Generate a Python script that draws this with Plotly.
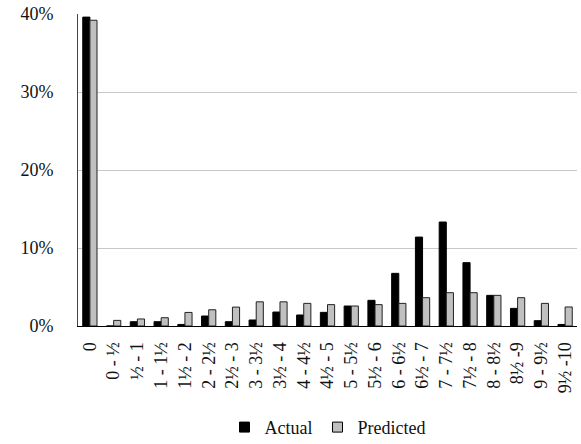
import plotly.graph_objects as go

categories = ["0", "0 - ½", "½ - 1", "1 - 1½", "1½ - 2", "2 - 2½", "2½ - 3", "3 - 3½",
              "3½ - 4", "4 - 4½", "4½ - 5", "5 - 5½", "5½ - 6", "6 - 6½", "6½ - 7",
              "7 - 7½", "7½ - 8", "8 - 8½", "8½ -9", "9 - 9½", "9½ -10"]
actual = [39.6, 0.0, 0.55, 0.55, 0.2, 1.28, 0.55, 0.77, 1.79, 1.41, 1.75, 2.56, 3.29,
          6.75, 11.4, 13.33, 8.12, 3.93, 2.26, 0.68, 0.2]
predicted = [39.2, 0.72, 0.9, 1.06, 1.74, 2.08, 2.42, 3.1, 3.1, 2.9, 2.74, 2.56, 2.74,
             2.9, 3.63, 4.27, 4.27, 3.93, 3.63, 2.9, 2.44]
y_ticks = [0, 10, 20, 30, 40]
y_tick_labels = ["0%", "10%", "20%", "30%", "40%"]

FONT = "'Liberation Serif', 'Times New Roman', Times, serif"
GRAY = "#c0c0c0"

fig = go.Figure()
fig.add_trace(go.Bar(x=categories, y=actual, name="Actual", showlegend=False,
                     marker=dict(color="black", line=dict(color="black", width=1))))
fig.add_trace(go.Bar(x=categories, y=predicted, name="Predicted", showlegend=False,
                     marker=dict(color=GRAY, line=dict(color="#222222", width=1))))
# legend entries
fig.add_trace(go.Scatter(x=[None], y=[None], mode="markers", name="Actual",
                         marker=dict(symbol="square", size=10, color="black",
                                     line=dict(color="black", width=1))))
fig.add_trace(go.Scatter(x=[None], y=[None], mode="markers", name="Predicted",
                         marker=dict(symbol="square", size=10, color=GRAY,
                                     line=dict(color="black", width=1))))

fig.update_layout(
    width=581, height=444,
    margin=dict(l=78, r=4, t=14, b=118, autoexpand=False),
    paper_bgcolor="white", plot_bgcolor="white",
    barmode="group", bargap=0.4, bargroupgap=0,
    font=dict(family=FONT, size=16, color="#111111"),
    legend=dict(orientation="h", x=0.5, xanchor="center", y=-0.325, yanchor="middle",
                font=dict(family=FONT, size=18), itemwidth=30, tracegroupgap=0),
)
fig.update_xaxes(
    type="category", tickangle=-90, showgrid=False,
    range=[-0.5, len(categories) - 0.5],
    showline=True, linecolor="black", linewidth=1,
    ticks="", ticklabelstandoff=8,
    tickfont=dict(family=FONT, size=18),
    automargin=False,
)
fig.update_yaxes(
    range=[0, 40], tickvals=y_ticks, ticktext=y_tick_labels,
    showgrid=True, gridcolor="#c8c8c8", gridwidth=1,
    showline=True, linecolor="#444444", linewidth=1,
    ticks="", ticklabelstandoff=20,
    tickfont=dict(family=FONT, size=18),
    zeroline=False, automargin=False,
)

fig.write_html("out.html", config={"displayModeBar": False},
               post_script="document.body.style.margin='0';document.body.style.padding='0';")
